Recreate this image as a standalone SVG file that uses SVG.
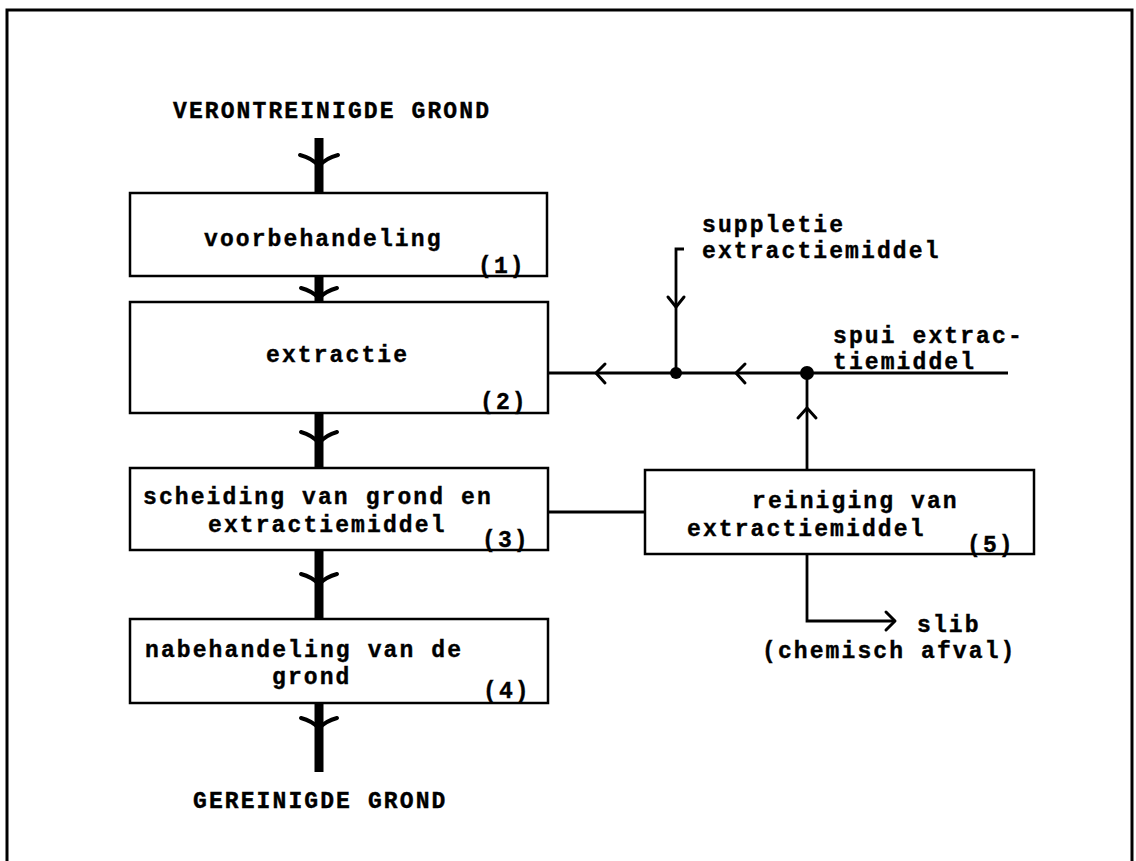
<svg xmlns="http://www.w3.org/2000/svg" width="1136" height="861" viewBox="0 0 1136 861">
<style>
  text { font-family: "Liberation Mono", "Courier New", monospace; font-weight: bold; font-size: 23px; letter-spacing: 2.1px; fill: #000; stroke: #000; stroke-width: 0.4; }
  .box { fill: #fff; stroke: #000; stroke-width: 2.5; }
  .main { stroke: #000; stroke-width: 9; fill: none; }
  .thin { stroke: #000; stroke-width: 2.8; fill: none; }
  .head { stroke: #000; stroke-width: 4; fill: none; stroke-linecap: round; stroke-linejoin: round; }
  .headthin { stroke: #000; stroke-width: 3; fill: none; stroke-linecap: round; stroke-linejoin: round; }
  .frame { stroke: #000; stroke-width: 3; fill: none; }
</style>
<rect x="0" y="0" width="1136" height="861" fill="#fff"/>
<path class="frame" d="M7,861 V10 H1132 V861"/>

<g id="connectors">
  <!-- main soil flow -->
  <line class="main" x1="319" y1="138" x2="319" y2="193"/>
  <line class="main" x1="319" y1="276" x2="319" y2="302"/>
  <line class="main" x1="319" y1="413" x2="319" y2="468"/>
  <line class="main" x1="319" y1="550" x2="319" y2="619"/>
  <line class="main" x1="319" y1="703" x2="319" y2="772"/>
  <path class="head" d="M300,155 Q312,158 319,166 Q326,158 338,155"/>
  <path class="head" d="M301,288 Q312,291 319,298 Q326,291 337,288"/>
  <path class="head" d="M301,432 Q312,435 319,443 Q326,435 337,432"/>
  <path class="head" d="M301,574 Q312,577 319,584 Q326,577 337,574"/>
  <path class="head" d="M301,718 Q312,721 319,728 Q326,721 337,718"/>

  <!-- extraction agent loop -->
  <line class="thin" x1="548" y1="512" x2="645" y2="512"/>
  <line class="thin" x1="548" y1="373" x2="1008" y2="373"/>
  <path class="headthin" d="M605,364 L596,373 L605,383"/>
  <path class="headthin" d="M745,364 L736,373 L745,383"/>
  <path class="thin" d="M684,249 H676 V373"/>
  <path class="headthin" d="M668,297 L676,307 L684,297"/>
  <line class="thin" x1="807" y1="470" x2="807" y2="373"/>
  <path class="headthin" d="M798,418 L807,408 L816,418"/>
  <path class="thin" d="M807,554 V621 H895"/>
  <path class="headthin" d="M886,612 L895,621 L886,630"/>
  <circle cx="676" cy="373" r="6" fill="#000"/>
  <circle cx="807" cy="373" r="7" fill="#000"/>
</g>

<g id="label-in">
  <text x="173" y="118">VERONTREINIGDE GROND</text>
</g>
<g id="label-out">
  <text x="193" y="808">GEREINIGDE GROND</text>
</g>

<g id="node1">
  <rect class="box" x="130" y="193" width="417" height="83"/>
  <text x="204" y="246">voorbehandeling</text>
  <text x="478" y="273">(1)</text>
</g>
<g id="node2">
  <rect class="box" x="130" y="302" width="418" height="111"/>
  <text x="266" y="362">extractie</text>
  <text x="480" y="409">(2)</text>
</g>
<g id="node3">
  <rect class="box" x="130" y="468" width="418" height="82"/>
  <text x="143" y="504">scheiding van grond en</text>
  <text x="208" y="532">extractiemiddel</text>
  <text x="482" y="547">(3)</text>
</g>
<g id="node4">
  <rect class="box" x="130" y="619" width="418" height="84"/>
  <text x="145" y="657">nabehandeling van de</text>
  <text x="272" y="684">grond</text>
  <text x="483" y="698">(4)</text>
</g>
<g id="node5">
  <rect class="box" x="645" y="470" width="389" height="84"/>
  <text x="752" y="508">reiniging van</text>
  <text x="687" y="536">extractiemiddel</text>
  <text x="967" y="552">(5)</text>
</g>

<g id="label-suppletie">
  <text x="702" y="232">suppletie</text>
  <text x="702" y="258">extractiemiddel</text>
</g>
<g id="label-spui">
  <text x="833" y="343">spui extrac-</text>
  <text x="833" y="369">tiemiddel</text>
</g>
<g id="label-slib">
  <text x="917" y="632">slib</text>
  <text x="762" y="658">(chemisch afval)</text>
</g>
</svg>
